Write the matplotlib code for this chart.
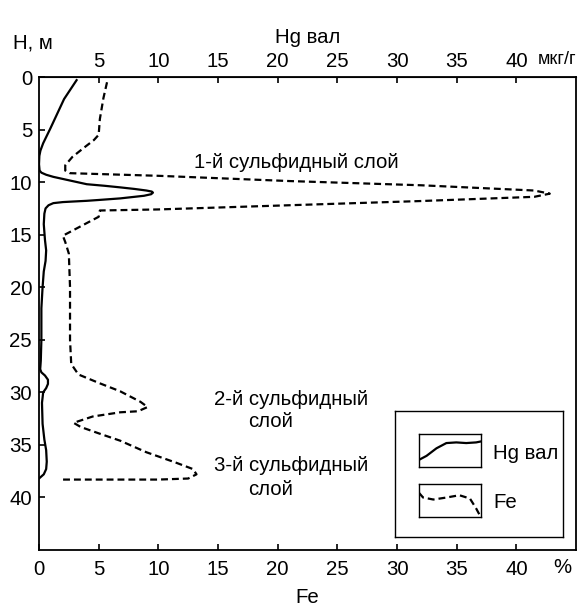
import matplotlib
matplotlib.use("Agg")
import matplotlib.pyplot as plt
import numpy as np

plt.rcParams['font.family'] = ['Liberation Sans', 'DejaVu Sans']
plt.rcParams['font.size'] = 14.7

# Hg вал (мкг/г) vs depth (м)
hg_val = [3.15, 2.1, 0.95, 0.35, 0.12, 0.03, 0.0, 0.05, 0.2, 0.6, 1.2, 2.0, 3.0, 4.0,
          5.5, 6.8, 8.0, 9.0, 9.45, 9.55, 9.4, 8.8, 6.8, 5.0, 4.0, 2.8, 2.0, 1.2,
          0.8, 0.55, 0.45, 0.4, 0.5, 0.6, 0.55, 0.4, 0.3, 0.2, 0.2, 0.15, 0.1, 0.2,
          0.5, 0.75, 0.75, 0.6, 0.35, 0.25, 0.3, 0.45, 0.6, 0.65, 0.6, 0.4, 0.1, 0.0]
hg_depth = [0.3, 2.1, 4.9, 6.3, 7.0, 7.5, 8.3, 8.9, 9.1, 9.3, 9.5, 9.7, 9.95, 10.2,
            10.35, 10.5, 10.65, 10.8, 10.9, 11.0, 11.15, 11.3, 11.55, 11.7, 11.78, 11.85, 11.9, 12.0,
            12.2, 12.5, 13.0, 14.0, 15.5, 16.5, 17.5, 18.5, 20.0, 22.0, 25.0, 27.0, 27.8, 28.1,
            28.4, 28.8, 29.2, 29.6, 30.0, 31.0, 33.0, 34.5, 35.5, 36.6, 37.3, 37.8, 38.1, 38.2]

# Fe (%) vs depth (м)
fe_val = [5.7, 5.4, 5.1, 5.0, 4.6, 3.8, 2.8, 2.2, 2.2, 2.6, 10, 21, 32, 41.5, 42.8,
          41.5, 32, 21, 10, 5.1, 5.0, 3.5, 2.0, 2.2, 2.5, 2.6, 2.6, 2.7, 3.3, 5.0,
          6.8, 8.5, 9.1, 8.3, 6.8, 4.5, 2.9, 3.5, 5.0, 6.8, 9.0, 11.5, 12.9, 13.2,
          12.5, 10, 2.0]
fe_depth = [0.5, 2.0, 4.0, 5.5, 6.0, 6.7, 7.6, 8.4, 8.9, 9.15, 9.4, 9.9, 10.3, 10.8, 11.1,
            11.4, 11.8, 12.2, 12.6, 12.7, 13.3, 14.2, 15.1, 15.7, 16.8, 20.0, 25.0, 27.3, 28.3, 29.1,
            29.9, 30.9, 31.4, 31.8, 31.9, 32.3, 32.9, 33.3, 33.9, 34.6, 35.7, 36.7, 37.3, 37.8,
            38.2, 38.3, 38.3]

bottom_ticks = [0, 5, 10, 15, 20, 25, 30, 35, 40]
top_ticks = [5, 10, 15, 20, 25, 30, 35, 40]
depth_ticks = [0, 5, 10, 15, 20, 25, 30, 35, 40]

# legend swatch shapes (fractions of the small box)
icon_hg_x = [0, 0.12, 0.28, 0.44, 0.6, 0.76, 0.92, 1.0]
icon_hg_y = [0.22, 0.34, 0.57, 0.73, 0.75, 0.73, 0.75, 0.78]
icon_fe_x = [0, 0.065, 0.23, 0.44, 0.65, 0.82, 0.92, 0.98]
icon_fe_y = [0.73, 0.59, 0.53, 0.59, 0.66, 0.56, 0.26, 0.05]

fig = plt.figure(figsize=(5.81, 6.11), dpi=100)
ax = fig.add_axes([39 / 581, 1 - 550 / 611, 537 / 581, 473 / 611])

ax.plot(hg_val, hg_depth, color='black', lw=1.6)
ax.plot(fe_val, fe_depth, color='black', lw=1.6, dashes=(3.1, 1.8))

ax.set_xlim(0, 45)
ax.set_ylim(45, 0)
ax.set_xticks(bottom_ticks)
ax.set_yticks(depth_ticks)
ax.tick_params(direction='in', length=4, width=1.2, pad=5)
ax.tick_params(axis='x', pad=7)
for s in ax.spines.values():
    s.set_linewidth(1.3)
ax.set_xlabel('Fe', labelpad=7)

top = ax.secondary_xaxis('top')
top.set_xticks(top_ticks)
top.tick_params(direction='in', length=4, width=1.2, pad=4)
top.set_xlabel('Hg вал', labelpad=7)

ax.text(-0.048, 1.072, 'H, м', transform=ax.transAxes, ha='left', va='center')
ax.text(0.965, 1.036, 'мкг/г', transform=ax.transAxes, ha='center', va='center', fontsize=13)
ax.text(0.974, -0.038, '%', transform=ax.transAxes, ha='center', va='center')

ax.text(13.0, 8.1, '1-й сульфидный слой', ha='left', va='center')
ax.text(14.7, 30.7, '2-й сульфидный', ha='left', va='center')
ax.text(17.5, 32.8, 'слой', ha='left', va='center')
ax.text(14.7, 37.0, '3-й сульфидный', ha='left', va='center')
ax.text(17.5, 39.2, 'слой', ha='left', va='center')

# legend box
leg = ax.inset_axes([0.663, 0.0275, 0.313, 0.266])
leg.set_xticks([])
leg.set_yticks([])
for s in leg.spines.values():
    s.set_linewidth(1.0)

ic1 = leg.inset_axes([0.143, 0.556, 0.369, 0.261])
ic1.plot(icon_hg_x, icon_hg_y, color='black', lw=1.6)
ic2 = leg.inset_axes([0.143, 0.159, 0.369, 0.262])
ic2.plot(icon_fe_x, icon_fe_y, color='black', lw=1.6, dashes=(3.1, 1.8))
for ic in (ic1, ic2):
    ic.set_xlim(0, 1)
    ic.set_ylim(0, 1)
    ic.set_xticks([])
    ic.set_yticks([])
    for s in ic.spines.values():
        s.set_linewidth(1.0)

leg.text(0.583, 0.667, 'Hg вал', transform=leg.transAxes, ha='left', va='center')
leg.text(0.583, 0.278, 'Fe', transform=leg.transAxes, ha='left', va='center')

fig.savefig('out.png', dpi=100)
